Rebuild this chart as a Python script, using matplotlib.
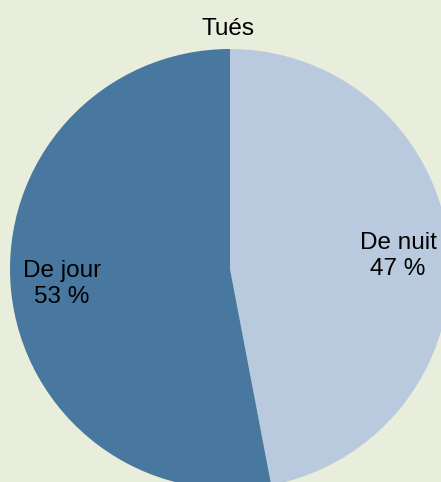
import matplotlib
matplotlib.use("Agg")
import matplotlib.pyplot as plt

labels = ["De nuit", "De jour"]
values = [47, 53]
colors = ["#b9cadf", "#48789f"]
title = "Tués"

W, H = 441, 482
fig = plt.figure(figsize=(W/100, H/100), dpi=100, facecolor="#e8eedb")
ax = fig.add_axes([0, 0, 1, 1])
ax.set_facecolor("#e8eedb")

cx, cy, r = 230, H - 269, 220
ax.pie(values, colors=colors, startangle=90, counterclock=False,
       center=(cx, cy), radius=r, frame=True,
       wedgeprops=dict(linewidth=0))
ax.set_xlim(0, W)
ax.set_ylim(0, H)
ax.set_aspect("equal")
ax.axis("off")

font = ["Liberation Sans", "DejaVu Sans"]
pos = [(398, H - 256), (62, H - 284)]
for lab, v, (x, y) in zip(labels, values, pos):
    ax.text(x, y, f"{lab}\n{v} %", ha="center", va="center", fontsize=17.5,
            family=font, color="black", linespacing=1.2)
ax.text(228, H - 29, title, ha="center", va="center", fontsize=17.5,
        family=font, color="black")

fig.savefig("out.png", dpi=100, facecolor=fig.get_facecolor())
